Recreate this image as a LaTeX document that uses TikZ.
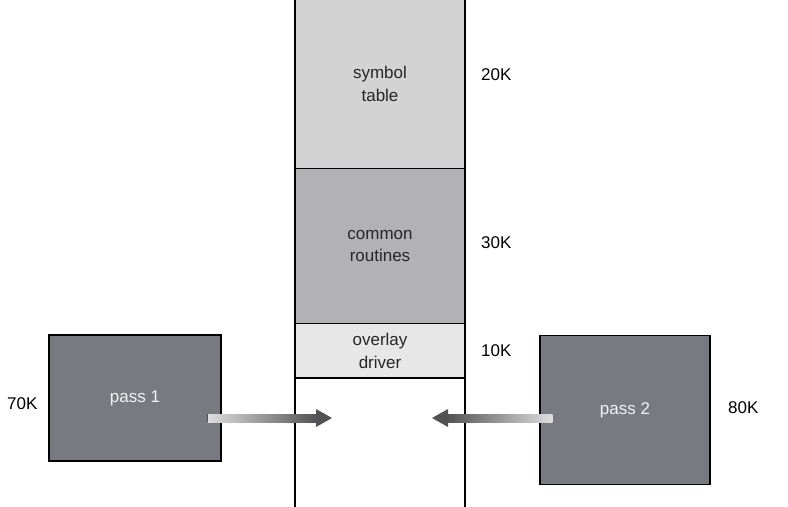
\documentclass[tikz,border=0pt]{standalone}
\usepackage{fontspec}
\setmainfont{Liberation Sans}
\usetikzlibrary{positioning}

\definecolor{symgray}{RGB}{211,211,211}
\definecolor{comgray}{RGB}{178,177,180}
\definecolor{drvgray}{RGB}{231,231,231}
\definecolor{passgray}{RGB}{120,122,130}
\definecolor{arrowdark}{RGB}{82,82,84}
\definecolor{arrowlight}{RGB}{222,222,222}

\tikzset{
  seg/.style={minimum width=5.1cm, inner sep=0pt, align=center, text=black!85},
  pass/.style={draw=black, line width=1.2pt, fill=passgray, text=white!95!black, inner sep=0pt},
  size/.style={anchor=west, text=black},
}

\begin{document}
\begin{tikzpicture}[x=0.03cm, y=-0.03cm, font=\fontsize{14.5}{19}\selectfont]
\useasboundingbox (0,0) rectangle (788,507);

% memory column
\node[seg, fill=symgray, minimum height=5.04cm] (symtab) at (380,84) {symbol\\table};
\node[seg, fill=comgray, minimum height=4.65cm] (common) [below=0pt of symtab] {common\\routines};
\node[seg, fill=drvgray, minimum height=1.62cm] (driver) [below=0pt of common] {overlay\\driver};

\coordinate (coltl) at (295,0);
\coordinate (colbl) at (295,507);
\coordinate (coltr) at (465,0);
\coordinate (colbr) at (465,507);
\draw[line width=1.2pt] (coltl) -- (colbl) (coltr) -- (colbr);
\draw[line width=1.2pt] (symtab.south west) -- (symtab.south east)
  (common.south west) -- (common.south east)
  (driver.south west) -- (driver.south east);

\node[size] (symsize) at (477,75) {20K};
\node[size] (comsize) at (477,243) {30K};
\node[size] (drvsize) at (477,351) {10K};

% the two passes
\node[pass, minimum width=5.16cm, minimum height=3.78cm] (pass1) at (135,398) {pass 1};
\node[pass, minimum width=5.1cm, minimum height=4.47cm] (pass2) at (625,410) {pass 2};
\node[size] (p1size) at (3,404) {70K};
\node[size] (p2size) at (724,408) {80K};

% load arrows
\coordinate (tip1) at (332,418);
\coordinate (tip2) at (432,418);
\shade[left color=arrowlight, right color=arrowdark] ([xshift=-0.42cm,yshift=0.12cm]pass1.east |- tip1) rectangle ([xshift=-0.45cm,yshift=-0.12cm]tip1);
\draw[arrowdark, line width=0.8pt] ([xshift=-0.42cm,yshift=0.12cm]pass1.east |- tip1) -- ++(0,-0.24cm);
\fill[arrowdark] (tip1) -- ++(-16,-9) -- ++(0,18) -- cycle;
\shade[left color=arrowdark, right color=arrowlight] ([xshift=0.45cm,yshift=0.12cm]tip2) rectangle ([xshift=0.39cm,yshift=-0.12cm]pass2.west |- tip2);
\fill[arrowdark] (tip2) -- ++(16,-9) -- ++(0,18) -- cycle;
\end{tikzpicture}
\end{document}
